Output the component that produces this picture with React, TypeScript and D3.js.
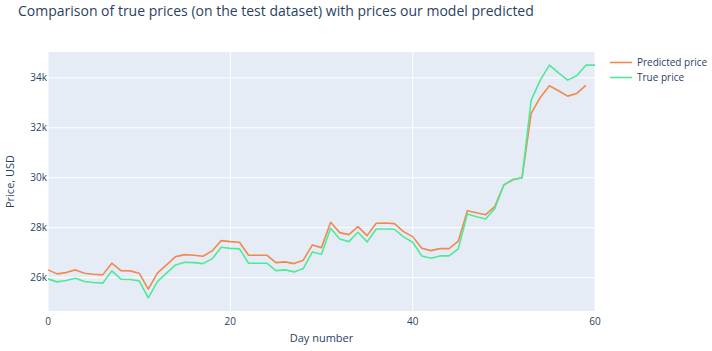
import React from "react";
import * as d3 from "d3";

const days = d3.range(0, 61);
const truePrice = [
  25948, 25828, 25880, 25976, 25840, 25800, 25776, 26268, 25936, 25920,
  25868, 25188, 25840, 26176, 26508, 26616, 26600, 26560, 26748, 27216,
  27168, 27148, 26576, 26576, 26576, 26280, 26308, 26228, 26360, 27028,
  26936, 27976, 27548, 27440, 27816, 27428, 27948, 27948, 27936, 27628,
  27416, 26868, 26776, 26868, 26868, 27148, 28548, 28440, 28348, 28760,
  29708, 29936, 30000, 33108, 33908, 34508, 34200, 33908, 34080, 34508,
  34508,
];
const predictedPrice = [
  26308, 26148, 26200, 26308, 26176, 26136, 26108, 26576, 26280, 26268,
  26176, 25536, 26176, 26508, 26840, 26920, 26896, 26856, 27068, 27480,
  27440, 27416, 26896, 26896, 26896, 26600, 26628, 26560, 26696, 27308,
  27200, 28216, 27800, 27720, 28040, 27680, 28176, 28188, 28160, 27840,
  27640, 27176, 27080, 27160, 27160, 27456, 28680, 28600, 28520, 28840,
  29708, 29920, 30000, 32576, 33216, 33680, 33480, 33268, 33376, 33696,
];
const xTicks = [0, 20, 40, 60];
const yTicks = [26000, 28000, 30000, 32000, 34000];
const seriesNames = ["Predicted price", "True price"];
const seriesColors = ["#f0894f", "#4eea98"];

const W = 712;
const H = 351;
const M = { left: 48, right: 117, top: 52, bottom: 40 };

export default function App() {
  const allVals = [...truePrice, ...predictedPrice];
  const [mn, mx] = d3.extent(allVals) as [number, number];
  const pad = (mx - mn) * 0.0565;
  const x = d3.scaleLinear().domain([0, 60]).range([M.left, W - M.right]);
  const y = d3.scaleLinear().domain([mn - pad, mx + pad]).range([H - M.bottom, M.top]);
  const line = d3
    .line<number>()
    .x((_, i) => x(days[i]))
    .y((d) => y(d));
  const font = "'Open Sans', Verdana, sans-serif";
  const txt = "#2a3f5f";
  const series = [predictedPrice, truePrice];
  return (
    <div style={{ position: "absolute", left: 0, top: 0 }}>
      <svg width={W} height={H} style={{ display: "block", background: "#fff" }} fontFamily={font}>
        <rect x={M.left} y={M.top} width={W - M.left - M.right} height={H - M.top - M.bottom} fill="#e5ecf6" />
        {xTicks.map((t) => (
          <line key={"gx" + t} x1={x(t)} x2={x(t)} y1={M.top} y2={H - M.bottom} stroke="#fff" strokeWidth={1} />
        ))}
        {yTicks.map((t) => (
          <line key={"gy" + t} x1={M.left} x2={W - M.right} y1={y(t)} y2={y(t)} stroke="#fff" strokeWidth={1} />
        ))}
        {series.map((s, k) => (
          <path key={"s" + k} d={line(s) || ""} fill="none" stroke={seriesColors[k]} strokeWidth={1.6} strokeLinejoin="round" />
        ))}
        {xTicks.map((t) => (
          <text key={"tx" + t} x={x(t)} y={H - M.bottom + 14} textAnchor="middle" fontSize={10} fill={txt}>
            {t}
          </text>
        ))}
        {yTicks.map((t) => (
          <text key={"ty" + t} x={M.left - 1} y={y(t) + 3.5} textAnchor="end" fontSize={10} fill={txt}>
            {d3.format("~s")(t)}
          </text>
        ))}
        <text x={(M.left + W - M.right) / 2} y={342} textAnchor="middle" fontSize={11} fill={txt}>
          Day number
        </text>
        <text transform={`translate(14,${(M.top + H - M.bottom) / 2}) rotate(-90)`} textAnchor="middle" fontSize={11} fill={txt}>
          Price, USD
        </text>
        <text x={18} y={16} fontSize={14} fill={txt}>
          Comparison of true prices (on the test dataset) with prices our model predicted
        </text>
        {seriesNames.map((n, k) => (
          <g key={"lg" + k} transform={`translate(610,${62.5 + k * 15})`}>
            <line x1={0} x2={22} y1={0} y2={0} stroke={seriesColors[k]} strokeWidth={1.6} />
            <text x={27} y={3.5} fontSize={10} fill={txt}>
              {n}
            </text>
          </g>
        ))}
      </svg>
    </div>
  );
}
